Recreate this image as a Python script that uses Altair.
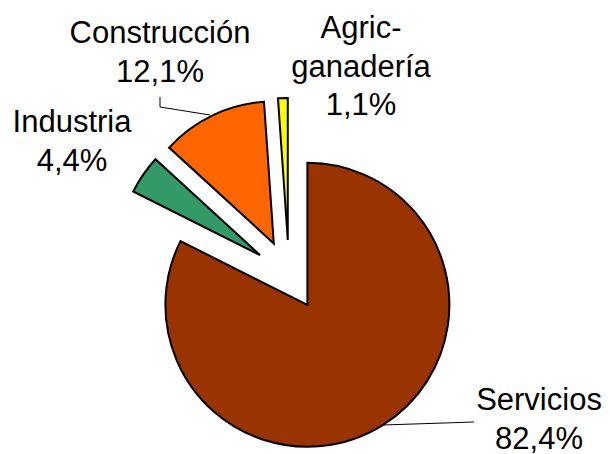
import math
import altair as alt
import pandas as pd

# ---- data ----
categories = ["Servicios", "Industria", "Construcción", "Agric-\nganadería"]
values = [82.4, 4.4, 12.1, 1.1]
colors = ["#993300", "#339966", "#FF6600", "#FFFF00"]
pct_labels = [f"{v:.1f}".replace(".", ",") + "%" for v in values]

# ---- layout / style ----
W, H = 594, 446
CX, CY = 281, 267      # pie centre (chart coords)
R = 142                # radius
D = 35                 # explode distance
FONT = "Liberation Sans"
FS = 31
LH = 38.5

label_pos = {
    "Servicios": (531, 402),
    "Industria": (64, 124),
    "Construcción": (152, 35),
    "Agric-\nganadería": (353, 30),
}
leaders = [
    ("Construcción", 0, 152, 89),
    ("Construcción", 1, 152, 99),
    ("Construcción", 2, 202, 107),
    ("Servicios", 0, 375, 417),
    ("Servicios", 1, 466, 414),
]

df = pd.DataFrame({
    "cat": categories,
    "value": values,
    "color": colors,
    "order": list(range(len(categories))),
})

arcs = (
    alt.Chart(df)
    .transform_window(cum="sum(value)", sort=[alt.SortField("order")], frame=[None, 0])
    .transform_joinaggregate(total="sum(value)")
    .transform_calculate(
        t0="2*PI*(datum.cum-datum.value)/datum.total",
        t1="2*PI*datum.cum/datum.total",
    )
    .transform_calculate(mid="(datum.t0+datum.t1)/2")
    .transform_calculate(
        px=f"{CX}+{D}*sin(datum.mid)",
        py=f"{CY}-{D}*cos(datum.mid)",
    )
    .mark_arc(outerRadius=R, stroke="black", strokeWidth=2)
    .encode(
        x=alt.X("px:Q", scale=None),
        y=alt.Y("py:Q", scale=None),
        theta=alt.Theta("t0:Q", scale=None),
        theta2="t1:Q",
        color=alt.Color("color:N", scale=None),
    )
)

lab_df = pd.DataFrame({
    "text": [f"{c}\n{p}" for c, p in zip(categories, pct_labels)],
    "lx": [label_pos[c][0] for c in categories],
    "ly": [label_pos[c][1] for c in categories],
})
labels = (
    alt.Chart(lab_df)
    .mark_text(font=FONT, fontSize=FS, lineBreak="\n", lineHeight=LH,
               align="center", baseline="alphabetic", color="black")
    .encode(x=alt.X("lx:Q", scale=None), y=alt.Y("ly:Q", scale=None), text="text:N")
)

lead_df = pd.DataFrame(leaders, columns=["cat", "i", "lx", "ly"])
lead = (
    alt.Chart(lead_df)
    .mark_line(color="black", strokeWidth=1)
    .encode(x=alt.X("lx:Q", scale=None), y=alt.Y("ly:Q", scale=None),
            detail="cat:N", order="i:Q")
)

chart = (
    alt.layer(arcs, lead, labels)
    .properties(width=W, height=H, padding=0, autosize=alt.AutoSizeParams(type="none"))
    .configure_view(stroke=None)
)

chart.save("out.html", embed_options={"renderer": "svg", "actions": False})
